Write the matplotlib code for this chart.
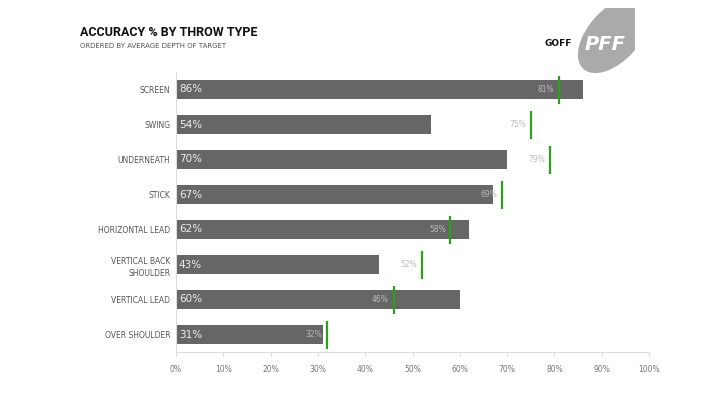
import matplotlib.pyplot as plt
from matplotlib.patches import Ellipse
import numpy as np

categories = ['SCREEN', 'SWING', 'UNDERNEATH', 'STICK', 'HORIZONTAL LEAD',
              'VERTICAL BACK\nSHOULDER', 'VERTICAL LEAD', 'OVER SHOULDER']
accuracy = [86, 54, 70, 67, 62, 43, 60, 31]
league_avg = [81, 75, 79, 69, 58, 52, 46, 32]
xticks = [0, 10, 20, 30, 40, 50, 60, 70, 80, 90, 100]

fig = plt.figure(figsize=(7.2, 4.05), dpi=100)
ax = fig.add_axes([176 / 720, (405 - 352) / 405, 473 / 720, 280 / 405])

y = np.arange(len(categories))
ax.barh(y, accuracy, height=0.57, color='#666666')
ax.vlines(league_avg, y - 0.4, y + 0.4, color='#2ca01c', lw=1.6, zorder=3)

for i, (a, m) in enumerate(zip(accuracy, league_avg)):
    ax.text(0.6, i, f'{a}%', va='center', ha='left', fontsize=7.5, color='#f0f0f0')
    ax.text(m - 1.0, i, f'{m}%', va='center', ha='right', fontsize=5.5, color='#bbbbbb')

ax.set_xlim(0, 100)
ax.set_ylim(len(categories) - 0.5, -0.5)
ax.set_yticks(y)
ax.set_yticklabels(categories, fontsize=5.5, color='#555555', linespacing=1.5)
ax.set_xticks(xticks)
ax.set_xticklabels([f'{t}%' for t in xticks], fontsize=5.5, color='#777777')
ax.tick_params(axis='y', length=0, pad=4)
ax.tick_params(axis='x', length=3, color='#dddddd', pad=6)
for s in ['top', 'right']:
    ax.spines[s].set_visible(False)
ax.spines['left'].set_color('#dddddd')
ax.spines['bottom'].set_color('#dddddd')
ax.spines['left'].set_linewidth(0.8)
ax.spines['bottom'].set_linewidth(0.8)

fig.text(80 / 720, 1 - 33 / 405, 'ACCURACY % BY THROW TYPE', fontsize=9,
         fontweight='bold', family='Roboto', color='#111111', va='center')
fig.text(80 / 720, 1 - 46 / 405, 'ORDERED BY AVERAGE DEPTH OF TARGET', fontsize=5,
         color='#555555', va='center')

fig.text(558 / 720, 1 - 44 / 405, 'GOFF', fontsize=6.5, fontweight='bold',
         color='#111111', va='center', ha='center')

# logo: football clipped on the right, in its own equal-aspect axes
lax = fig.add_axes([566 / 720, 1 - 80 / 405, 69 / 720, 72 / 405])
lax.set_xlim(0, 69)
lax.set_ylim(0, 72)
lax.axis('off')
lax.add_patch(Ellipse((48, 45), 90, 50, angle=48, color='#aaaaaa'))
lax.text(39, 35, 'PFF', fontsize=14, fontweight='bold', style='italic',
         color='white', va='center', ha='center')

fig.savefig('out.png', dpi=100)
